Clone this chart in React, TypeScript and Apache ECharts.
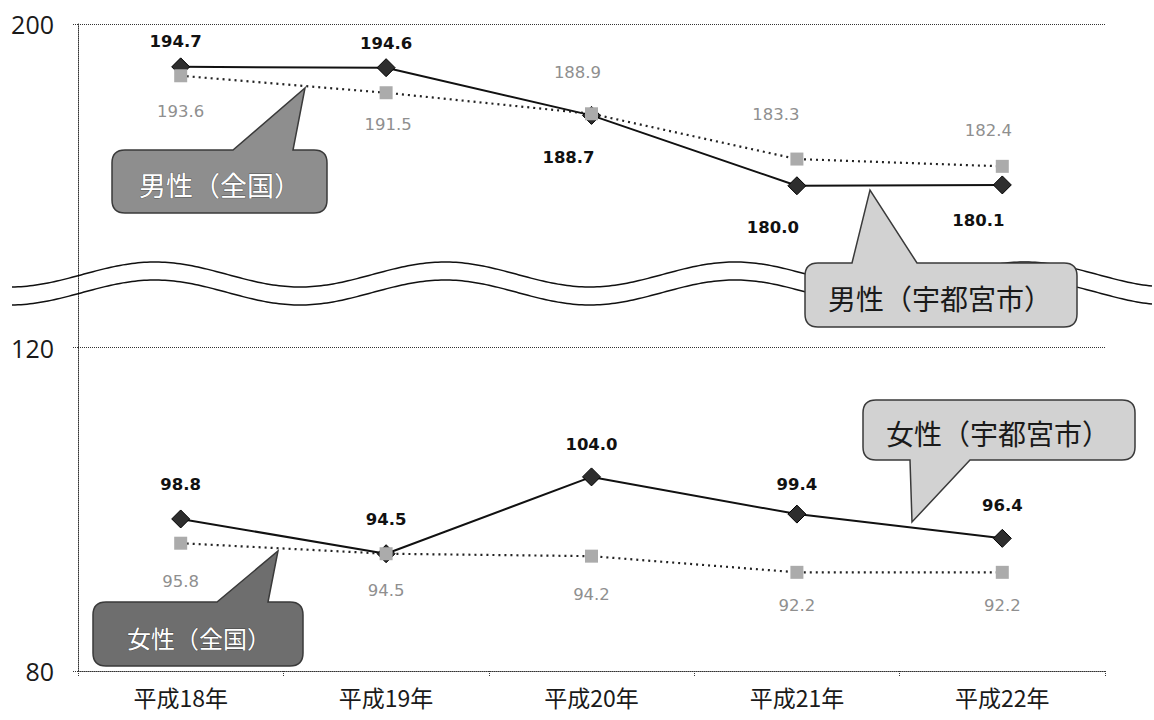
import React, { useEffect, useRef } from "react";
import * as echarts from "echarts";

// ---- data ----
const categories = ["平成18年", "平成19年", "平成20年", "平成21年", "平成22年"];
const maleCity = [194.7, 194.6, 188.7, 180.0, 180.1];
const maleNational = [193.6, 191.5, 188.9, 183.3, 182.4];
const femaleCity = [98.8, 94.5, 104.0, 99.4, 96.4];
const femaleNational = [95.8, 94.5, 94.2, 92.2, 92.2];
// axis is broken: real scale 80..160, upper section (males) shifted by 40
const yTickLabels = ["80", "120", "200"];
const AXIS_BREAK_OFFSET = 40;

const calloutNames = ["男性（全国）", "男性（宇都宮市）", "女性（宇都宮市）", "女性（全国）"];

function calloutPath(
  x: number, y: number, w: number, h: number, r: number,
  b1: number, b2: number, tx: number, ty: number, top: boolean
) {
  const R = x + w, B = y + h;
  let d = `M${x + r} ${y} `;
  if (top) d += `L${b1} ${y} L${tx} ${ty} L${b2} ${y} `;
  d += `L${R - r} ${y} Q${R} ${y} ${R} ${y + r} L${R} ${B - r} Q${R} ${B} ${R - r} ${B} `;
  if (!top) d += `L${b2} ${B} L${tx} ${ty} L${b1} ${B} `;
  d += `L${x + r} ${B} Q${x} ${B} ${x} ${B - r} L${x} ${y + r} Q${x} ${y} ${x + r} ${y} Z`;
  return d;
}

const callouts = [
  { name: "co1", d: calloutPath(112, 150, 215, 63, 13, 233, 293, 305, 88, true), fill: "#8e8e8e", text: calloutNames[0], tx: 220, ty: 184, size: 27, color: "#ffffff", stroke: "#555" },
  { name: "co2", d: calloutPath(805, 263, 272, 64, 13, 852, 917, 870, 190, true), fill: "#d2d2d2", text: calloutNames[1], tx: 940, ty: 298, size: 28, color: "#1a1a1a", stroke: null },
  { name: "co3", d: calloutPath(863, 400, 272, 60, 13, 910, 970, 912, 522, false), fill: "#d2d2d2", text: calloutNames[2], tx: 998, ty: 433, size: 28, color: "#1a1a1a", stroke: null },
  { name: "co4", d: calloutPath(93, 602, 210, 64, 13, 217, 268, 278, 551, true), fill: "#6e6e6e", text: calloutNames[3], tx: 199, ty: 637, size: 24, color: "#ffffff", stroke: "#444" },
];

callouts.forEach((c) => {
  echarts.graphic.registerShape(c.name, echarts.graphic.extendPath(c.d, {}) as any);
});

function wavePoints(center: number) {
  const pts: number[][] = [];
  for (let x = 12; x <= 1154; x += 3) {
    pts.push([x, center - 12.5 * Math.cos((2 * Math.PI * (x - 155)) / 290)]);
  }
  return pts;
}

export default function App() {
  const ref = useRef<HTMLDivElement>(null);

  useEffect(() => {
    if (!ref.current) return;
    const chart = echarts.init(ref.current, undefined, { renderer: "svg" });

    const cityLabel = { fontFamily: "DejaVu Sans", fontWeight: "bold", fontSize: 16.5, color: "#111" };
    const natLabel = { fontFamily: "DejaVu Sans", fontWeight: "normal", fontSize: 16.5, color: "#8f8f8f" };

    const maleCityOff = [[-5, -25], [0, -24], [-23, 42], [-24, 42], [-24, 36]];
    const maleNatOff = [[0, 36], [2, 32], [-14, -41], [-21, -45], [-14, -36]];
    const femCityOff = [[0, -34], [0, -34], [0, -32], [0, -30], [0, -33]];
    const femNatOff = [[0, 38], [0, 37], [0, 38], [0, 33], [0, 33]];

    const mk = (vals: number[], shift: number, offs: number[][], lbl: any) =>
      vals.map((v, i) => ({
        value: v - shift,
        label: {
          show: true,
          position: "inside",
          offset: offs[i],
          formatter: () => v.toFixed(1),
          ...lbl,
        },
      }));

    const citySeries = (data: any) => ({
      type: "line",
      data,
      symbol: "diamond",
      symbolSize: 18,
      lineStyle: { color: "#111", width: 2, type: "solid" },
      itemStyle: { color: "#2e2e2e", borderColor: "#000", borderWidth: 1 },
      z: 3,
    });
    const natSeries = (data: any) => ({
      type: "line",
      data,
      symbol: "rect",
      symbolSize: 13,
      lineStyle: { color: "#222", width: 2.2, type: [2, 4] },
      itemStyle: { color: "#ababab" },
      z: 4,
    });

    const graphics: any[] = [];
    graphics.push({ type: "polyline", silent: true, z: 5, shape: { points: wavePoints(274.5) }, style: { stroke: "#111", lineWidth: 1.5, fill: null } });
    graphics.push({ type: "polyline", silent: true, z: 5, shape: { points: wavePoints(292.5) }, style: { stroke: "#111", lineWidth: 1.5, fill: null } });
    callouts.forEach((c) => {
      graphics.push({ type: c.name, x: 0, y: 0, z: 10, style: { fill: c.fill, stroke: "#3a3a3a", lineWidth: 1.5 } });
      graphics.push({
        type: "text",
        x: c.tx,
        y: c.ty,
        z: 11,
        style: {
          text: c.text,
          fill: c.color,
          stroke: c.stroke || undefined,
          lineWidth: c.stroke ? 0.8 : 0,
          font: `normal ${c.size}px "Noto Sans CJK JP"`,
          textAlign: "center",
          textVerticalAlign: "middle",
          align: "center",
          verticalAlign: "middle",
        },
      });
    });

    chart.setOption({
      animation: false,
      backgroundColor: "#ffffff",
      grid: { left: 78, right: 49, top: 24, bottom: 49 },
      xAxis: {
        type: "category",
        data: categories,
        boundaryGap: true,
        axisLine: { show: true, lineStyle: { color: "#333", type: "dotted", width: 1 } },
        axisTick: { show: true, length: 5, lineStyle: { color: "#333", type: "dotted" } },
        axisLabel: { fontFamily: "Noto Sans CJK JP", fontSize: 23, color: "#1a1a1a", margin: 14 },
      },
      yAxis: {
        type: "value",
        min: 80,
        max: 160,
        interval: 40,
        axisLine: { show: true, lineStyle: { color: "#333", type: "dotted", width: 1 } },
        axisTick: { show: true, length: 6, lineStyle: { color: "#333", type: "dotted" } },
        splitLine: { show: true, lineStyle: { color: "#333", type: "dotted", width: 1 } },
        axisLabel: {
          fontFamily: "Open Sans",
          fontSize: 25,
          color: "#1a1a1a",
          margin: 24,
          formatter: (v: number) => yTickLabels[Math.round((v - 80) / 40)] ?? "",
        },
      },
      series: [
        citySeries(mk(maleCity, AXIS_BREAK_OFFSET, maleCityOff, cityLabel)),
        natSeries(mk(maleNational, AXIS_BREAK_OFFSET, maleNatOff, natLabel)),
        citySeries(mk(femaleCity, 0, femCityOff, cityLabel)),
        natSeries(mk(femaleNational, 0, femNatOff, natLabel)),
      ],
      graphic: { elements: graphics },
    });

    return () => chart.dispose();
  }, []);

  return <div ref={ref} style={{ position: "fixed", left: 0, top: 0, width: 1154, height: 720 }} />;
}
